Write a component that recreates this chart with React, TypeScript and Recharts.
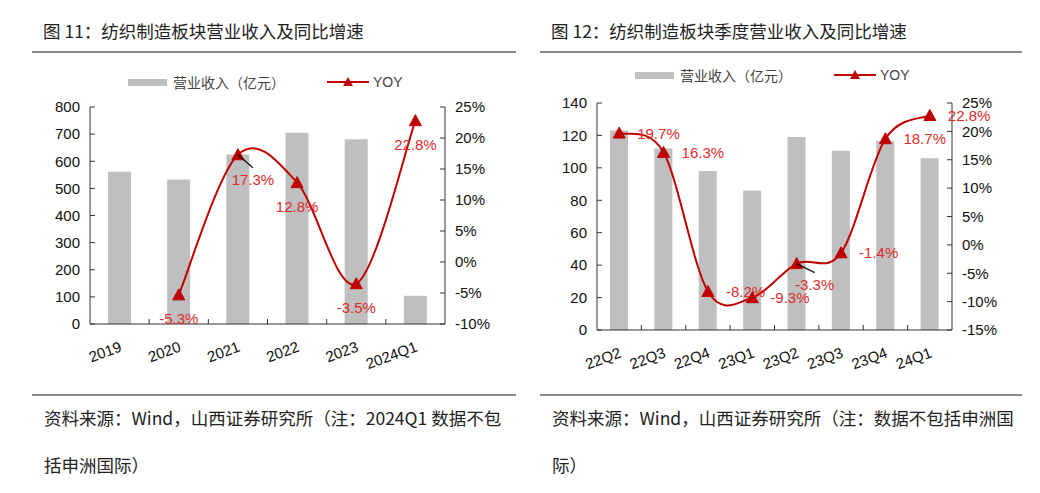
import React from 'react';
import { ComposedChart, Bar, Line, XAxis, YAxis, LabelList } from 'recharts';

// 图 11 annual
const yearCats = ['2019', '2020', '2021', '2022', '2023', '2024Q1'];
const yearRevenue = [561, 533, 625, 705, 681, 104];
const yearYoy = [null, -5.3, 17.3, 12.8, -3.5, 22.8];
const yearLeftTicks = [0, 100, 200, 300, 400, 500, 600, 700, 800];
const yearRightTicks = [-10, -5, 0, 5, 10, 15, 20, 25];

// 图 12 quarterly
const quarterCats = ['22Q2', '22Q3', '22Q4', '23Q1', '23Q2', '23Q3', '23Q4', '24Q1'];
const quarterRevenue = [123, 112, 98, 86, 119, 110.5, 116.5, 106];
const quarterYoy = [19.7, 16.3, -8.2, -9.3, -3.3, -1.4, 18.7, 22.8];
const quarterLeftTicks = [0, 20, 40, 60, 80, 100, 120, 140];
const quarterRightTicks = [-15, -10, -5, 0, 5, 10, 15, 20, 25];

const BAR = '#BFBFBF';
const RED = '#C00000';
const LABEL_RED = '#E02B2B';
const AXIS = '#333';
const FONT = '"Liberation Sans", Arial, sans-serif';
const CJK = '"Noto Sans CJK SC", sans-serif';

// excel-like smoothed line (catmull-rom to bezier)
function smoothCurve(context: any) {
  let pts: number[][] = [];
  return {
    areaStart() {},
    areaEnd() {},
    lineStart() { pts = []; },
    point(x: number, y: number) { pts.push([+x, +y]); },
    lineEnd() {
      if (!pts.length) return;
      context.moveTo(pts[0][0], pts[0][1]);
      for (let i = 0; i < pts.length - 1; i++) {
        const p0 = pts[Math.max(i - 1, 0)];
        const p1 = pts[i];
        const p2 = pts[i + 1];
        const p3 = pts[Math.min(i + 2, pts.length - 1)];
        context.bezierCurveTo(
          p1[0] + (p2[0] - p0[0]) / 6, p1[1] + (p2[1] - p0[1]) / 6,
          p2[0] - (p3[0] - p1[0]) / 6, p2[1] - (p3[1] - p1[1]) / 6,
          p2[0], p2[1]
        );
      }
    },
  };
}

const Triangle = (props: any) => {
  const { cx, cy, value } = props;
  if (value == null || cx == null) return <g />;
  return <path d={`M${cx},${cy - 6} L${cx + 6},${cy + 5} L${cx - 6},${cy + 5} Z`} fill={RED} stroke={RED} />;
};

function makeXTick(count: number) {
  return (props: any) => {
    const { x, y, payload, index, width } = props;
    const bw = width / count;
    const tx = x + 3;
    const ty = y + 27;
    return (
      <g>
        {index > 0 && <line x1={x - bw / 2} x2={x - bw / 2} y1={y} y2={y - 5} stroke={AXIS} />}
        <text x={tx} y={ty} transform={`rotate(-20 ${tx} ${ty})`} textAnchor="end" fontSize={15} fill="#111" fontFamily={FONT}>
          {payload.value}
        </text>
      </g>
    );
  };
}

function makeLabel(mode: 'below' | 'right', callout: number) {
  return (props: any) => {
    const { x, y, value, index } = props;
    if (value == null) return null;
    const text = `${value.toFixed(1)}%`;
    const common = { fontSize: 15, fill: LABEL_RED, fontFamily: FONT, dominantBaseline: 'central' as const };
    if (index === callout) {
      const dx = mode === 'below' ? 15 : 18;
      const dy = mode === 'below' ? 25 : 21;
      return (
        <g>
          <line x1={x} y1={y} x2={x + dx} y2={y + dy - 12} stroke="#111" strokeWidth={1.2} />
          <text x={x + dx} y={y + dy} textAnchor="middle" {...common}>{text}</text>
        </g>
      );
    }
    if (mode === 'below') {
      return <text x={x} y={y + 24} textAnchor="middle" {...common}>{text}</text>;
    }
    return <text x={x + 18} y={y} textAnchor="start" {...common}>{text}</text>;
  };
}

type PanelProps = {
  left: number;
  title: string;
  source: string[];
  cats: string[];
  revenue: number[];
  yoy: (number | null)[];
  leftTicks: number[];
  rightTicks: number[];
  plotTop: number;
  plotBottom: number;
  plotLeft: number;
  plotRight: number;
  barSize: number;
  labelMode: 'below' | 'right';
  callout: number;
  ruleLeft: number;
  ruleRight: number;
  textLeft: number;
  legendX: number;
  legendY: number;
};

function Panel(p: PanelProps) {
  const data = p.cats.map((c, i) => ({ cat: c, revenue: p.revenue[i], yoy: p.yoy[i] }));
  const W = 520;
  const H = 390;
  const xAxisH = 50;
  return (
    <div style={{ position: 'absolute', left: p.left, top: 0, width: W, height: 493 }}>
      <div style={{ position: 'absolute', left: p.textLeft - 1, top: 19, fontFamily: CJK, fontSize: 17.5, lineHeight: '24px', color: '#222', whiteSpace: 'nowrap' }}>
        {p.title}
      </div>
      <div style={{ position: 'absolute', left: p.ruleLeft, top: 51, width: p.ruleRight - p.ruleLeft, height: 2, background: '#8a8a8a' }} />
      <ComposedChart
        width={W}
        height={H}
        data={data}
        margin={{ top: p.plotTop, bottom: H - p.plotBottom - xAxisH, left: 0, right: 0 }}
        style={{ position: 'absolute', left: 0, top: 0 }}
      >
        <XAxis
          dataKey="cat"
          height={xAxisH}
          stroke={AXIS}
          tickLine={false}
          tickSize={0}
          tickMargin={0}
          interval={0}
          tick={makeXTick(p.cats.length)}
        />
        <YAxis
          yAxisId="l"
          width={p.plotLeft}
          domain={[p.leftTicks[0], p.leftTicks[p.leftTicks.length - 1]]}
          ticks={p.leftTicks}
          interval={0}
          stroke={AXIS}
          tickSize={-5}
          tickMargin={15}
          tick={{ fontSize: 15, fill: '#111', fontFamily: FONT }}
        />
        <YAxis
          yAxisId="r"
          orientation="right"
          width={W - p.plotRight}
          domain={[p.rightTicks[0], p.rightTicks[p.rightTicks.length - 1]]}
          ticks={p.rightTicks}
          interval={0}
          stroke={AXIS}
          tickSize={-5}
          tickMargin={15}
          tickFormatter={(v: number) => `${v}%`}
          tick={{ fontSize: 15, fill: '#111', fontFamily: FONT }}
        />
        <Bar yAxisId="l" dataKey="revenue" fill={BAR} barSize={p.barSize} isAnimationActive={false} />
        <Line
          yAxisId="r"
          dataKey="yoy"
          type={smoothCurve as any}
          stroke={RED}
          strokeWidth={2}
          dot={<Triangle />}
          activeDot={false}
          isAnimationActive={false}
        >
          <LabelList dataKey="yoy" content={makeLabel(p.labelMode, p.callout)} />
        </Line>
      </ComposedChart>
      <div style={{ position: 'absolute', left: p.legendX, top: p.legendY - 10, height: 20, display: 'flex', alignItems: 'center', fontFamily: CJK, fontSize: 14, color: '#444', whiteSpace: 'nowrap' }}>
        <span style={{ display: 'inline-block', width: 39, height: 7, background: BAR, marginRight: 6 }} />
        <span>营业收入（亿元）</span>
        <svg width={42} height={12} style={{ marginLeft: 42, marginRight: 4 }}>
          <line x1={0} y1={6} x2={42} y2={6} stroke={RED} strokeWidth={2} />
          <path d="M21,1 L26,10 L16,10 Z" fill={RED} />
        </svg>
        <span style={{ fontFamily: FONT }}>YOY</span>
      </div>
      <div style={{ position: 'absolute', left: p.ruleLeft, top: 394, width: p.ruleRight - p.ruleLeft, height: 2, background: '#8a8a8a' }} />
      <div style={{ position: 'absolute', left: p.textLeft, top: 406, fontFamily: CJK, fontSize: 17.5, lineHeight: '24px', color: '#222', whiteSpace: 'nowrap' }}>
        {p.source[0]}
      </div>
      <div style={{ position: 'absolute', left: p.textLeft, top: 453, fontFamily: CJK, fontSize: 17.5, lineHeight: '24px', color: '#222', whiteSpace: 'nowrap' }}>
        {p.source[1]}
      </div>
    </div>
  );
}

export default function App() {
  return (
    <div style={{ position: 'absolute', left: 0, top: 0, width: 1040, height: 493, background: '#fff', overflow: 'hidden' }}>
      <Panel
        left={0}
        title="图 11：纺织制造板块营业收入及同比增速"
        source={['资料来源：Wind，山西证券研究所（注：2024Q1 数据不包', '括申洲国际）']}
        cats={yearCats}
        revenue={yearRevenue}
        yoy={yearYoy}
        leftTicks={yearLeftTicks}
        rightTicks={yearRightTicks}
        plotTop={107}
        plotBottom={324}
        plotLeft={90}
        plotRight={445}
        barSize={23}
        labelMode="below"
        callout={2}
        ruleLeft={32}
        ruleRight={516}
        textLeft={44}
        legendX={128}
        legendY={82}
      />
      <Panel
        left={520}
        title="图 12：纺织制造板块季度营业收入及同比增速"
        source={['资料来源：Wind，山西证券研究所（注：数据不包括申洲国', '际）']}
        cats={quarterCats}
        revenue={quarterRevenue}
        yoy={quarterYoy}
        leftTicks={quarterLeftTicks}
        rightTicks={quarterRightTicks}
        plotTop={103}
        plotBottom={330}
        plotLeft={77}
        plotRight={432}
        barSize={18}
        labelMode="right"
        callout={4}
        ruleLeft={20}
        ruleRight={502}
        textLeft={32}
        legendX={115}
        legendY={75}
      />
    </div>
  );
}
